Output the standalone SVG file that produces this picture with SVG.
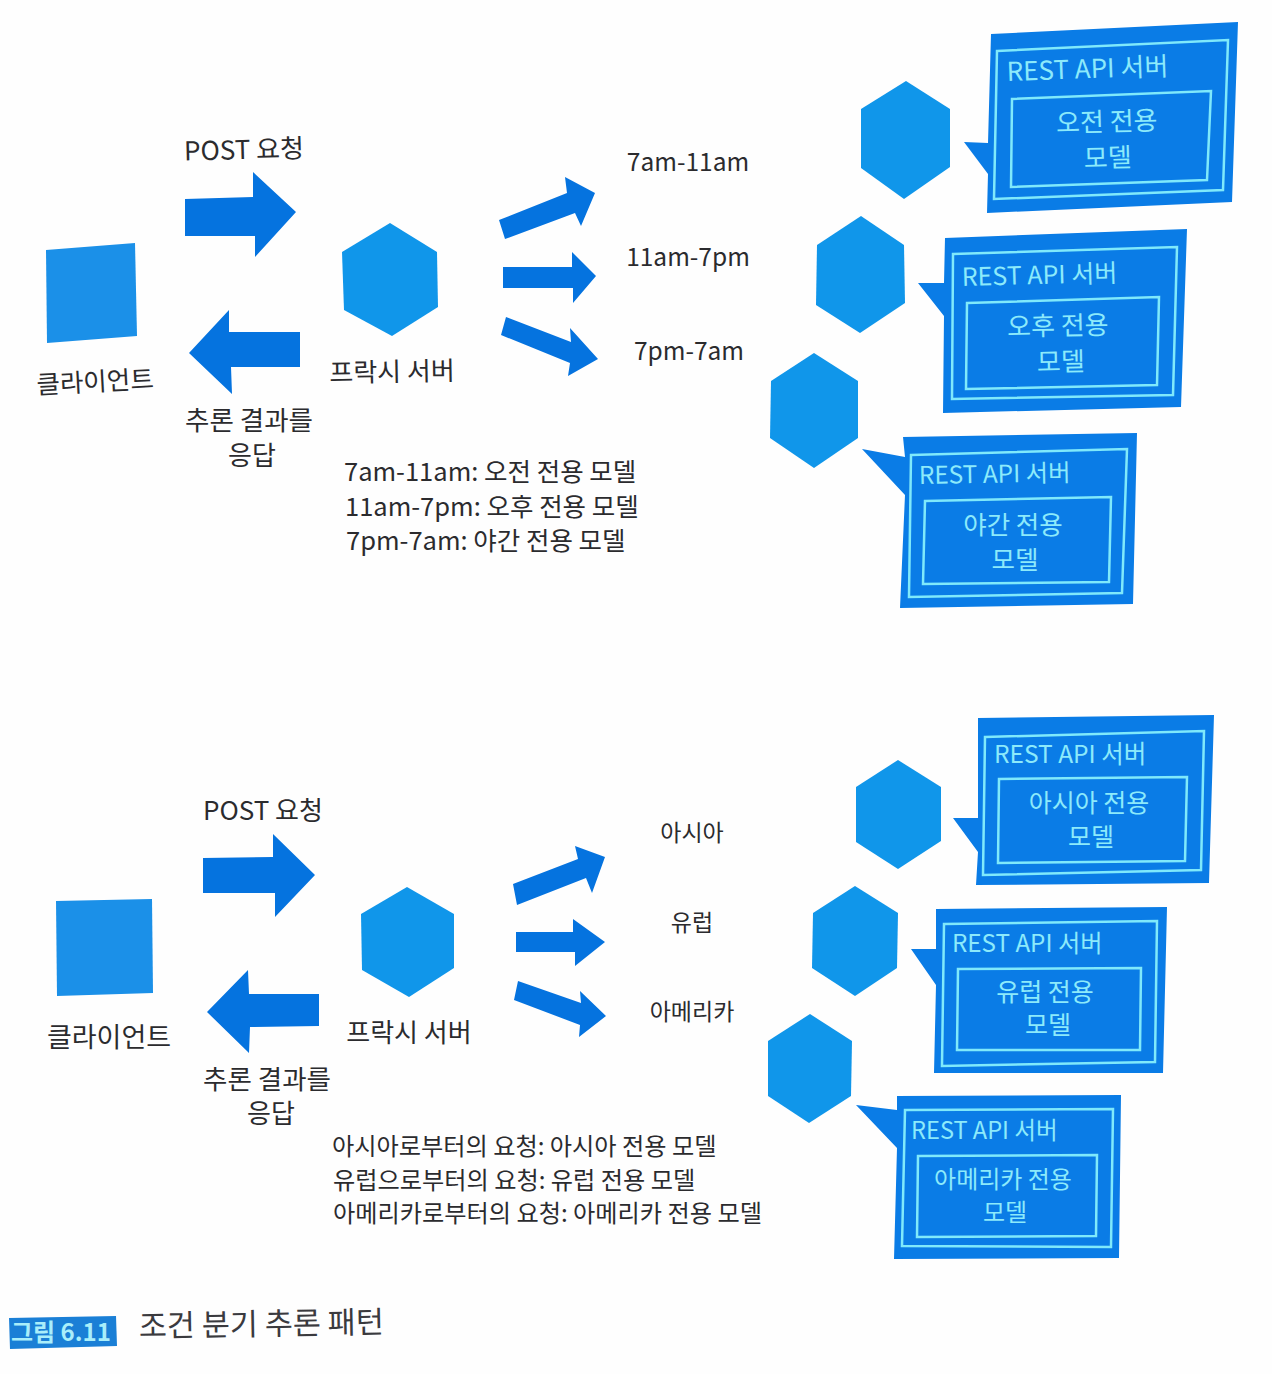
<svg xmlns="http://www.w3.org/2000/svg" width="1272" height="1374" viewBox="0 0 1272 1374">
<style>
text{font-family:"Noto Sans CJK KR","Noto Sans",sans-serif;fill:#2b2b2e;font-size:26px}
.m{text-anchor:middle}
.client{fill:#1b90e8}
.hex{fill:#1096ea}
.arrow{fill:#0573df}
.box{fill:#0a7ce6}
.frame{fill:none;stroke:#7fe9fb;stroke-width:2.5}
.w{fill:#8ceafb}
.time{font-size:24.5px}
.rt{font-size:25.5px}
.rb{font-size:24.2px}
.reg{font-size:23px}
</style>
<rect width="1272" height="1374" fill="#fefefe"/>
<g id="connectors">
<polygon class="arrow" points="185,199 253,197 253,172 296,212 255,257 255,236 185,236"/>
<polygon class="arrow" points="300,332 229,332 229,310 189,353 232,394 231,367 300,367"/>
<polygon class="arrow" points="499,220 567,193 565,177 595,193 581,226 575,213 505,239"/>
<polygon class="arrow" points="503,267 572,267 572,252 596,276 573,303 573,288 503,288"/>
<polygon class="arrow" points="506,317 571,342 570,328 598,359 568,376 570,363 501,335"/>
<polygon class="arrow" points="203,858 273,857 273,834 315,875 275,917 275,893 203,893"/>
<polygon class="arrow" points="319,994 249,994 248,970 207,1012 249,1053 250,1027 319,1026"/>
<polygon class="arrow" points="513,884 578,859 575,846 605,857 592,893 586,878 517,905"/>
<polygon class="arrow" points="516,932 573,932 573,919 605,942 575,966 575,952 516,952"/>
<polygon class="arrow" points="518,981 581,1003 580,991 606,1016 579,1037 580,1025 514,1000"/>
</g>
<g id="client-top"><polygon class="client" points="46,250 135,243 137,336 47,343"/><text class="m" x="95" y="391" style="font-size:25.5px" transform="rotate(-3 95 381)">클라이언트</text></g>
<g id="proxy-top"><polygon class="hex" points="390,223 437,252 438,307 392,336 344,310 342,252"/><text class="m" x="392" y="381" transform="rotate(-1 392 371)">프락시 서버</text></g>
<g id="label-post-top"><text class="m" x="244" y="159" transform="rotate(-1.5 244 150)">POST 요청</text></g>
<g id="label-resp-top"><text class="m" x="249" y="430" style="font-size:26.5px">추론 결과를</text><text class="m" x="252" y="465">응답</text></g>
<g id="label-times">
<text class="m time" x="688" y="171">7am-11am</text>
<text class="m time" x="688" y="266">11am-7pm</text>
<text class="m time" x="689" y="360">7pm-7am</text>
</g>
<g id="rules-top">
<text class="rt" x="344" y="481">7am-11am: 오전 전용 모델</text>
<text class="rt" x="345" y="516">11am-7pm: 오후 전용 모델</text>
<text class="rt" x="346" y="550">7pm-7am: 야간 전용 모델</text>
</g>
<g id="server-am">
<polygon class="hex" points="906,81 950,109 950,167 904,199 861,168 861,109"/>
<polygon class="box" points="991,34 1238,22 1232,202 987,213 988,174 964,142 988,143"/>
<polygon class="frame" points="997,51 1228,40 1223,190 994,199"/>
<polygon class="frame" points="1012,99 1211,91 1207,180 1011,187"/>
<text class="w" x="1007" y="81" transform="rotate(-2 1007 81)">REST API 서버</text>
<text class="w m" x="1107" y="131" transform="rotate(-1.5 1107 131)">오전 전용</text>
<text class="w m" x="1108" y="167" transform="rotate(-1.5 1108 167)">모델</text>
</g>
<g id="server-pm">
<polygon class="hex" points="861,216 904,245 905,303 860,333 816,305 817,245"/>
<polygon class="box" points="945,238 1187,229 1181,407 943,413 944,316 918,283 944,283"/>
<polygon class="frame" points="953,254 1177,247 1173,395 952,399"/>
<polygon class="frame" points="967,303 1159,297 1157,385 966,389"/>
<text class="w" x="962" y="286" style="font-size:25px" transform="rotate(-1.5 962 287)">REST API 서버</text>
<text class="w m" x="1058" y="335" transform="rotate(-1 1058 335)">오후 전용</text>
<text class="w m" x="1061" y="371" transform="rotate(-1 1061 371)">모델</text>
</g>
<g id="server-night">
<polygon class="hex" points="814,353 858,381 858,438 814,468 770,438 771,381"/>
<polygon class="box" points="903,437 1137,433 1133,604 900,608 905,495 862,449 905,457"/>
<polygon class="frame" points="911,455 1127,449 1122,593 909,597"/>
<polygon class="frame" points="925,501 1111,497 1109,582 923,584"/>
<text class="w" x="919" y="484" style="font-size:24.4px" transform="rotate(-1 919 484)">REST API 서버</text>
<text class="w m" x="1013" y="534" style="font-size:25.5px">야간 전용</text>
<text class="w m" x="1015" y="569" style="font-size:25.5px">모델</text>
</g>
<g id="client-bottom"><polygon class="client" points="56,901 152,899 153,993 57,996"/><text class="m" x="109" y="1047" style="font-size:27px">클라이언트</text></g>
<g id="proxy-bottom"><polygon class="hex" points="407,887 454,914 454,968 409,997 362,970 361,914"/><text class="m" x="409" y="1042">프락시 서버</text></g>
<g id="label-post-bottom"><text class="m" x="263" y="820">POST 요청</text></g>
<g id="label-resp-bottom"><text class="m" x="267" y="1089" style="font-size:26.5px">추론 결과를</text><text class="m" x="271" y="1123">응답</text></g>
<g id="label-regions">
<text class="m reg" x="692" y="841">아시아</text>
<text class="m reg" x="692" y="931">유럽</text>
<text class="m reg" x="692" y="1020">아메리카</text>
</g>
<g id="rules-bottom">
<text class="rb" x="332" y="1155">아시아로부터의 요청: 아시아 전용 모델</text>
<text class="rb" x="333" y="1189">유럽으로부터의 요청: 유럽 전용 모델</text>
<text class="rb" x="333" y="1222">아메리카로부터의 요청: 아메리카 전용 모델</text>
</g>
<g id="server-asia">
<polygon class="hex" points="898,760 941,787 941,841 898,869 856,842 856,787"/>
<polygon class="box" points="978,718 1214,715 1209,883 976,885 978,852 953,818 978,818"/>
<polygon class="frame" points="985,737 1204,731 1201,870 983,875"/>
<polygon class="frame" points="999,779 1187,777 1185,861 998,863"/>
<text class="w" x="994" y="763" style="font-size:24.5px">REST API 서버</text>
<text class="w m" x="1089" y="812" style="font-size:25px">아시아 전용</text>
<text class="w m" x="1091" y="846" style="font-size:25px">모델</text>
</g>
<g id="server-europe">
<polygon class="hex" points="855,886 898,913 897,968 855,996 812,968 813,913"/>
<polygon class="box" points="936,909 1167,907 1163,1073 934,1073 936,985 911,949 936,949"/>
<polygon class="frame" points="944,924 1157,921 1155,1062 942,1066"/>
<polygon class="frame" points="958,969 1141,968 1140,1050 957,1050"/>
<text class="w" x="952" y="952" style="font-size:24.2px">REST API 서버</text>
<text class="w m" x="1045" y="1001" style="font-size:25px">유럽 전용</text>
<text class="w m" x="1048" y="1034" style="font-size:25px">모델</text>
</g>
<g id="server-america">
<polygon class="hex" points="810,1014 852,1041 851,1096 809,1123 768,1096 768,1041"/>
<polygon class="box" points="897,1096 1121,1095 1119,1258 894,1259 897,1148 856,1105 897,1110"/>
<polygon class="frame" points="905,1110 1113,1109 1111,1247 902,1246"/>
<polygon class="frame" points="918,1156 1097,1155 1096,1236 917,1237"/>
<text class="w" x="911" y="1139" style="font-size:23.6px">REST API 서버</text>
<text class="w m" x="1003" y="1188" style="font-size:24px">아메리카 전용</text>
<text class="w m" x="1005" y="1221" style="font-size:24px">모델</text>
</g>
<g id="caption">
<polygon points="9,1318 116,1316 117,1346 10,1349" fill="#1a7fd6"/>
<text x="11" y="1341" style="font-size:24px;font-weight:700;fill:#a9eefa">그림 6.11</text>
<text x="139" y="1337" style="font-size:30.5px;fill:#3a3a3e" transform="rotate(-1 139 1337)">조건 분기 추론 패턴</text>
</g>
</svg>
